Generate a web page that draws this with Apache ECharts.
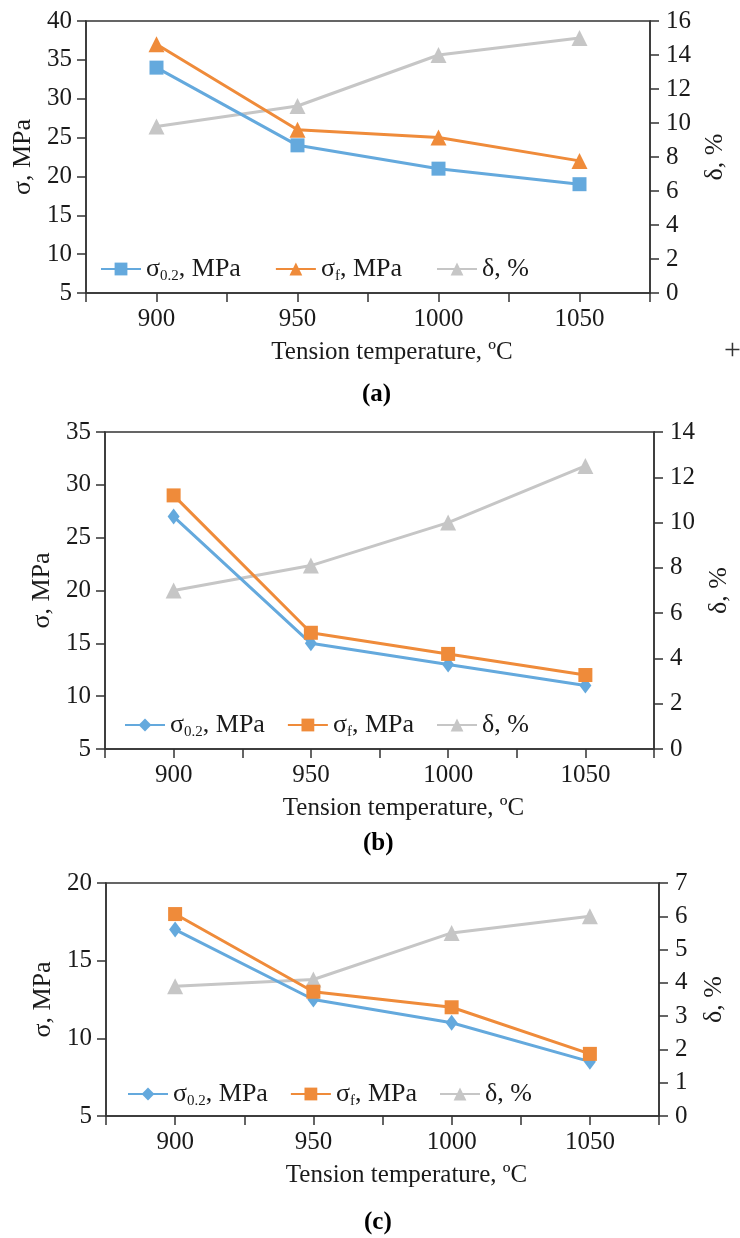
<!DOCTYPE html>
<html>
<head>
<meta charset="utf-8">
<title>Tension temperature</title>
<script src="https://cdn.jsdelivr.net/npm/echarts@6/dist/echarts.min.js"></script>
<style>
  html, body { margin: 0; padding: 0; background: #fff; }
  .panel { width: 740px; }
</style>
</head>
<body>
<div id="pa" class="panel" style="height:410px"></div>
<div id="pb" class="panel" style="height:450px"></div>
<div id="pc" class="panel" style="height:378px"></div>
<script>
// data
var temps = [900, 950, 1000, 1050];

var aYield = [34, 24, 21, 19];
var aUlt = [37, 26, 25, 22];
var aElong = [9.8, 11, 14, 15];

var bYield = [27, 15, 13, 11];
var bUlt = [29, 16, 14, 12];
var bElong = [7, 8.1, 10, 12.5];

var cYield = [17, 12.5, 11, 8.5];
var cUlt = [18, 13, 12, 9];
var cElong = [3.9, 4.1, 5.5, 6];

var names = ['σ0.2, MPa', 'σf, MPa', 'δ, %'];
var serif = '"Liberation Serif", "Times New Roman", serif';
var blue = '#64a9dd', orange = '#ef8b3a', grey = '#c6c6c6';
var ink = '#1a1a1a';

function pairs(vals) {
  return temps.map(function (t, i) { return [t, vals[i]]; });
}

function legendText(n) {
  if (n === names[0]) return '{t|σ}{s|0.2}{t|, MPa}';
  if (n === names[1]) return '{t|σ}{s|f}{t|, MPa}';
  return '{t|δ, %}';
}

function makeOption(p) {
  var axisLine = { show: true, lineStyle: { color: '#333', width: 1.5 } };
  var tick = { show: true, length: 9, lineStyle: { color: '#333', width: 1.5 } };
  var lbl = { fontFamily: serif, fontSize: 25, color: ink };
  function line(name, data, yIdx, color, sym, size) {
    return {
      name: name, type: 'line', yAxisIndex: yIdx, data: pairs(data),
      symbol: sym, symbolSize: size, showSymbol: true,
      lineStyle: { color: color, width: 3 },
      itemStyle: { color: color },
      z: yIdx ? 2 : 3
    };
  }
  return {
    animation: false,
    grid: { left: p.grid[0], top: p.grid[1], width: p.grid[2], height: p.grid[3],
      show: true, borderColor: '#333', borderWidth: 1.5, containLabel: false },
    legend: {
      data: names, left: p.legend[0], top: p.legend[1],
      itemWidth: 40, itemHeight: 16, itemGap: p.legendGap,
      formatter: legendText,
      textStyle: {
        rich: {
          t: { fontFamily: serif, fontSize: 26, color: ink, lineHeight: 30, verticalAlign: 'middle' },
          s: { fontFamily: serif, fontSize: 15, color: ink, lineHeight: 15, verticalAlign: 'bottom' }
        }
      }
    },
    xAxis: {
      type: 'value', min: 875, max: 1075, interval: 25,
      name: 'Tension temperature, ºC', nameLocation: 'middle', nameGap: 47,
      nameTextStyle: { fontFamily: serif, fontSize: 25, color: ink, padding: [0, 0, 0, 48] },
      axisLine: axisLine, axisTick: tick,
      axisLabel: Object.assign({ margin: 14, formatter: function (v) { return v % 50 === 0 ? String(v) : ''; } }, lbl),
      splitLine: { show: false }
    },
    yAxis: [{
      type: 'value', position: 'left', min: p.left[0], max: p.left[1], interval: p.left[2],
      name: 'σ, MPa', nameLocation: 'middle', nameGap: 42, nameRotate: 90,
      nameTextStyle: { fontFamily: serif, fontSize: 26, color: ink },
      axisLine: axisLine, axisTick: tick,
      axisLabel: Object.assign({ margin: 14 }, lbl),
      splitLine: { show: false }
    }, {
      type: 'value', position: 'right', min: p.right[0], max: p.right[1], interval: p.right[2],
      name: 'δ, %', nameLocation: 'middle', nameGap: p.rightGap, nameRotate: 90,
      nameTextStyle: { fontFamily: serif, fontSize: 26, color: ink },
      axisLine: axisLine, axisTick: tick,
      axisLabel: Object.assign({ margin: 16 }, lbl),
      splitLine: { show: false }
    }],
    series: [
      line(names[0], p.y, 0, blue, p.sym[0], p.size[0]),
      line(names[1], p.u, 0, orange, p.sym[1], p.size[1]),
      line(names[2], p.e, 1, grey, 'triangle', 16)
    ],
    graphic: p.graphic
  };
}

function caption(txt, x, y) {
  return { type: 'text', left: x, top: y,
    style: { text: txt, fontFamily: serif, fontSize: 25, fontWeight: 'bold', fill: '#000' } };
}

var chartA = echarts.init(document.getElementById('pa'));
chartA.setOption(makeOption({
  grid: [86, 21, 564, 272], left: [5, 40, 5], right: [0, 16, 2], rightGap: 46,
  y: aYield, u: aUlt, e: aElong,
  sym: ['rect', 'triangle'], size: [14, 16],
  legend: [95, 251], legendGap: 34,
  graphic: [caption('(a)', 362, 382),
    { type: 'text', left: 724, top: 336, style: { text: '+', fontFamily: serif, fontSize: 30, fill: '#333' } }]
}));

var chartB = echarts.init(document.getElementById('pb'));
chartB.setOption(makeOption({
  grid: [105, 22, 551, 317], left: [5, 35, 5], right: [0, 14, 2], rightGap: 52,
  y: bYield, u: bUlt, e: bElong,
  sym: ['diamond', 'rect'], size: [[12, 16], 14],
  legend: [119, 297], legendGap: 22,
  graphic: [caption('(b)', 363, 421)]
}));

var chartC = echarts.init(document.getElementById('pc'));
chartC.setOption(makeOption({
  grid: [106, 23, 553, 233], left: [5, 20, 5], right: [0, 7, 1], rightGap: 42,
  y: cYield, u: cUlt, e: cElong,
  sym: ['diamond', 'rect'], size: [[12, 16], 14],
  legend: [122, 216], legendGap: 22,
  graphic: [caption('(c)', 364, 350)]
}));
</script>
</body>
</html>
